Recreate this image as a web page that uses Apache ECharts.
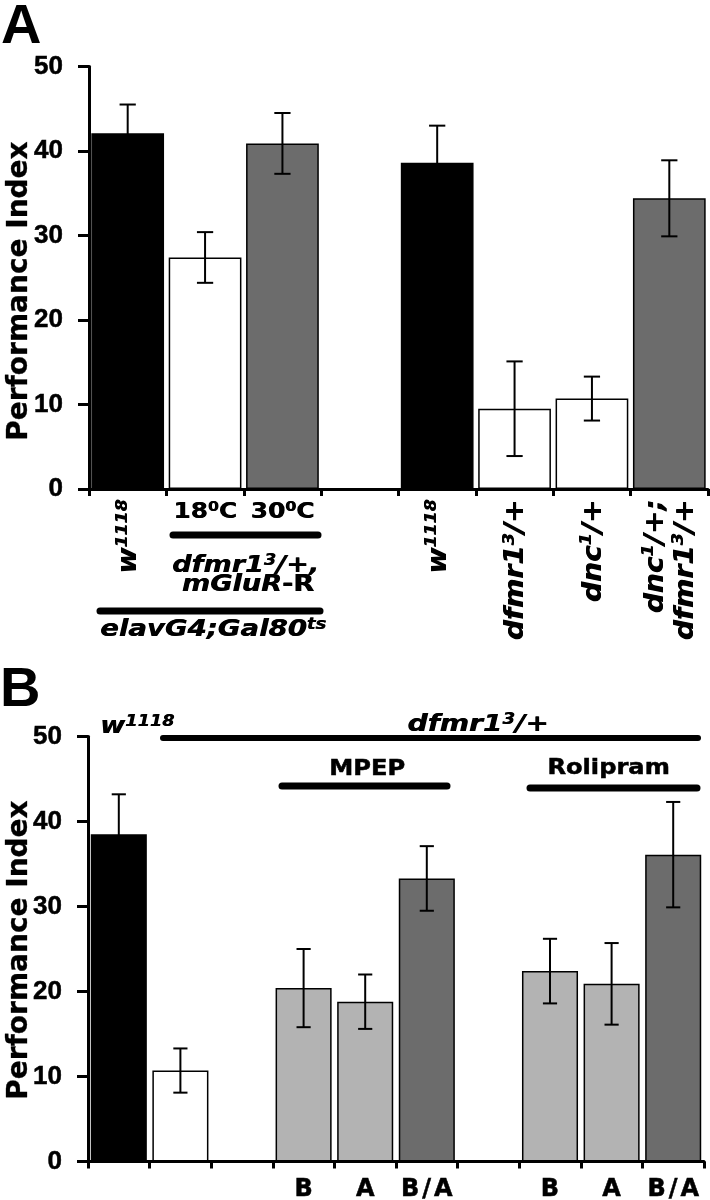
<!DOCTYPE html>
<html><head><meta charset="utf-8">
<script src="https://cdn.jsdelivr.net/npm/echarts@6/dist/echarts.min.js"></script>
<style>html,body{margin:0;padding:0;background:#fff}#c{width:710px;height:1200px}</style>
</head><body><div id="c"></div>
<script>
// ---------- data ----------
// '^' toggles superscript in label strings
const categoriesA = ['w^1118^', '18^0^C', '30^0^C', '', 'w^1118^', 'dfmr1^3^/+', 'dnc^1^/+', 'dnc^1^/+;\ndfmr1^3^/+'];
const valuesA = [42.1, 27.4, 40.9, null, 38.6, 9.5, 10.7, 34.4];
const errorsA = [3.4, 3.0, 3.6, null, 4.4, 5.6, 2.6, 4.5];

const categoriesB = ['w1118', 'dfmr1/+', 'gap1', 'MPEP B', 'MPEP A', 'MPEP B/A', 'gap2', 'Rolipram B', 'Rolipram A', 'Rolipram B/A'];
const tickLabelsB = ['', '', '', 'B', 'A', 'B/A', '', 'B', 'A', 'B/A'];
const valuesB = [38.5, 10.7, null, 20.4, 18.8, 33.3, null, 22.4, 20.9, 36.1];
const errorsB = [4.7, 2.6, null, 4.6, 3.2, 3.8, null, 3.8, 4.8, 6.2];

const yTicks = [0, 10, 20, 30, 40, 50];
const yTitle = 'Performance Index';
const panelLetters = ['A', 'B'];
const groupA = { temps: ['18^0^C', '30^0^C'], genotype1: 'dfmr1^3^/+,', genotype2: 'mGluR', genotype2b: '-R', driver: 'elavG4;Gal80^ts^' };
const groupB = { control: 'w^1118^', mutant: 'dfmr1^3^/+', drugs: ['MPEP', 'Rolipram'] };

// ---------- styles ----------
const fillA = ['#000000', '#ffffff', '#6c6c6c', '#ffffff', '#000000', '#ffffff', '#ffffff', '#6c6c6c'];
const fillB = ['#000000', '#ffffff', '#ffffff', '#b3b3b3', '#b3b3b3', '#6c6c6c', '#ffffff', '#b3b3b3', '#b3b3b3', '#6c6c6c'];
const FONT = 'DejaVu Sans';
const NUMFONT = 'Liberation Sans';
const SW = 0.5; // extra stroke to thicken bold text

const chart = echarts.init(document.getElementById('c'), null, { renderer: 'canvas', width: 710, height: 1200 });

function errRender(capFrac) {
  return function (params, api) {
    const x = api.value(0), v = api.value(1), e = api.value(2);
    const t = api.coord([x, v + e]), b = api.coord([x, v - e]);
    const hw = api.size([1, 0])[0] * capFrac / 2;
    const st = { stroke: '#000', lineWidth: 2 };
    return { type: 'group', children: [
      { type: 'line', shape: { x1: t[0], y1: t[1], x2: b[0], y2: b[1] }, style: st },
      { type: 'line', shape: { x1: t[0] - hw, y1: t[1], x2: t[0] + hw, y2: t[1] }, style: st },
      { type: 'line', shape: { x1: b[0] - hw, y1: b[1], x2: b[0] + hw, y2: b[1] }, style: st }
    ] };
  };
}
function barData(vals, fills) {
  return vals.map((v, i) => v == null ? '-' : { value: v, itemStyle: { color: fills[i] } });
}
function errData(vals, errs) {
  const out = [];
  vals.forEach((v, i) => { if (v != null) out.push([i, v, errs[i]]); });
  return out;
}
function yAxis(grid) {
  return {
    gridIndex: grid, type: 'value', min: 0, max: 50, interval: 10,
    axisLine: { show: true, lineStyle: { color: '#000', width: 3 } },
    axisTick: { show: true, length: 11, lineStyle: { color: '#000', width: 3 } },
    splitLine: { show: false },
    axisLabel: { show: true, margin: 26, color: '#000', fontFamily: NUMFONT, fontWeight: 'bold', fontSize: 26,
      textBorderColor: '#000', textBorderWidth: SW,
      formatter: v => yTicks.indexOf(v) >= 0 ? String(v) : '' }
  };
}
function xAxis(grid, data, labelOpt) {
  return {
    gridIndex: grid, type: 'category', data: data, boundaryGap: true,
    axisLine: { show: true, onZero: false, lineStyle: { color: '#000', width: 3 } },
    axisTick: { show: true, alignWithLabel: false, interval: 0, length: 7, lineStyle: { color: '#000', width: 3 } },
    splitLine: { show: false },
    axisLabel: labelOpt
  };
}

const option = {
  animation: false,
  backgroundColor: '#fff',
  grid: [
    { left: 89, top: 66.5, width: 619, height: 422.5, containLabel: false, outerBoundsMode: 'none' },
    { left: 88, top: 736.5, width: 616, height: 425, containLabel: false, outerBoundsMode: 'none' }
  ],
  xAxis: [
    xAxis(0, categoriesA, { show: false }),
    xAxis(1, categoriesB, { show: true, interval: 0, margin: 16, color: '#000', fontFamily: FONT, fontWeight: 'bold', fontSize: 24,
      textBorderColor: '#000', textBorderWidth: SW,
      rich: { sl: { fontFamily: FONT, fontWeight: 'bold', fontSize: 24, color: '#000', padding: [0, 3, 0, 3], textBorderColor: '#000', textBorderWidth: SW } },
      formatter: (v, i) => tickLabelsB[i].replace('/', '{sl|/}') })
  ],
  yAxis: [yAxis(0), yAxis(1)],
  series: [
    { type: 'bar', xAxisIndex: 0, yAxisIndex: 0, data: barData(valuesA, fillA), barCategoryGap: '6%',
      itemStyle: { borderColor: '#000', borderWidth: 1.5 }, silent: true },
    { type: 'custom', xAxisIndex: 0, yAxisIndex: 0, data: errData(valuesA, errorsA), renderItem: errRender(0.21),
      encode: { x: 0, y: 1 }, silent: true, z: 5 },
    { type: 'bar', xAxisIndex: 1, yAxisIndex: 1, data: barData(valuesB, fillB), barCategoryGap: '9%',
      itemStyle: { borderColor: '#000', borderWidth: 1.5 }, silent: true },
    { type: 'custom', xAxisIndex: 1, yAxisIndex: 1, data: errData(valuesB, errorsB), renderItem: errRender(0.23),
      encode: { x: 0, y: 1 }, silent: true, z: 5 }
  ]
};
chart.setOption(option);

// ---------- annotations ----------
function toRich(str, italic) {
  return str.split('\n').map(line => line.split('^').map((p, k) => {
    if (p === '') return '';
    const key = (k % 2 ? 's' : 'm') + (italic ? 'i' : 'u');
    return '{' + key + '|' + p + '}';
  }).join('')).join('\n');
}
function richSet(size, sup, lh) {
  const base = { fontFamily: FONT, fontWeight: 'bold', fill: '#000' };
  const L = lh || size + 2;
  return {
    mi: Object.assign({}, base, { fontStyle: 'italic', fontSize: size, lineHeight: L }),
    mu: Object.assign({}, base, { fontStyle: 'normal', fontSize: size, lineHeight: L }),
    si: Object.assign({}, base, { fontStyle: 'italic', fontSize: sup, lineHeight: sup, verticalAlign: 'top' }),
    su: Object.assign({}, base, { fontStyle: 'normal', fontSize: sup, lineHeight: sup, verticalAlign: 'top' })
  };
}
// rich labels drawn twice with a sub-pixel shift to thicken strokes
function label(richText, x, y, o) {
  const mk = (dx, dy) => ({ type: 'text', x: x + dx, y: y + dy, rotation: o.rot || 0, scaleX: o.sx || 1, silent: true, z: 10,
    style: { text: richText, rich: richSet(o.size, o.sup, o.lh), align: o.align || 'center', verticalAlign: o.va || 'middle',
      fill: '#000', fontFamily: FONT, fontWeight: 'bold', fontSize: o.size } });
  return o.rot ? [mk(0, 0), mk(0, 0.6)] : [mk(0, 0), mk(0.6, 0)];
}
function plain(text, x, y, o) {
  return { type: 'text', x: x, y: y, rotation: o.rot || 0, scaleX: o.sx || 1, silent: true, z: 10,
    style: { text: text, align: o.align || 'center', verticalAlign: 'middle', fill: '#000',
      stroke: '#000', lineWidth: o.sw == null ? SW : o.sw,
      fontFamily: o.family || FONT, fontWeight: 'bold', fontSize: o.size } };
}
function bar(x1, x2, y, w) {
  return { type: 'line', silent: true, z: 10, shape: { x1: x1, y1: y, x2: x2, y2: y },
    style: { stroke: '#000', lineWidth: w, lineCap: 'round' } };
}
const cxA = i => chart.convertToPixel({ xAxisIndex: 0 }, i);
const cxB = i => chart.convertToPixel({ xAxisIndex: 1 }, i);
const R90 = Math.PI / 2;
let g = [];
// panel letters
g.push(plain(panelLetters[0], 1, 28, { size: 56, family: NUMFONT, align: 'left', sw: 0 }));
g.push(plain(panelLetters[1], 0, 691, { size: 56, family: NUMFONT, align: 'left', sw: 0 }));
// y titles
g.push(plain(yTitle, 20, 291, { size: 28, rot: R90, sw: 0.3 }));
g.push(plain(yTitle, 20, 950, { size: 28, rot: R90, sw: 0.3 }));
// panel A rotated category labels
[0, 4, 5, 6, 7].forEach(i => {
  g = g.concat(label(toRich(categoriesA[i], true), cxA(i) + 2, 499, { rot: R90, align: 'right', size: 26, sup: 16, sx: 1.08, lh: 30 }));
});
// temperatures
g = g.concat(label(toRich(groupA.temps[0], false), cxA(1), 512, { size: 22, sup: 14, sx: 1.13 }));
g = g.concat(label(toRich(groupA.temps[1], false), cxA(2), 512, { size: 22, sup: 14, sx: 1.13 }));
g.push(bar(173, 318, 535, 7));
g = g.concat(label(toRich(groupA.genotype1, true), 319, 566, { align: 'right', size: 23, sup: 15, sx: 1.18 }));
g = g.concat(label('{mi|' + groupA.genotype2 + '}{mu|' + groupA.genotype2b + '}', 314, 585, { align: 'right', size: 23, sup: 15, sx: 1.18 }));
g.push(bar(100, 320, 611, 7));
g = g.concat(label(toRich(groupA.driver, true), 213, 630, { size: 23, sup: 15, sx: 1.2 }));
// panel B annotations
g = g.concat(label(toRich(groupB.control, true), 100, 727, { align: 'left', size: 23, sup: 15, sx: 1.18 }));
g = g.concat(label(toRich(groupB.mutant, true), 478, 725, { size: 23, sup: 15, sx: 1.22 }));
g.push(bar(163, 698, 738, 6));
g.push(plain(groupB.drugs[0], (cxB(3) + cxB(5)) / 2 + 2, 770, { size: 21, sx: 1.15 }));
g.push(bar(282, 447, 786, 7));
g.push(plain(groupB.drugs[1], (cxB(7) + cxB(9)) / 2 - 3, 769, { size: 21, sx: 1.15 }));
g.push(bar(530, 697, 788, 7));
chart.setOption({ graphic: g });
</script>
</body></html>
